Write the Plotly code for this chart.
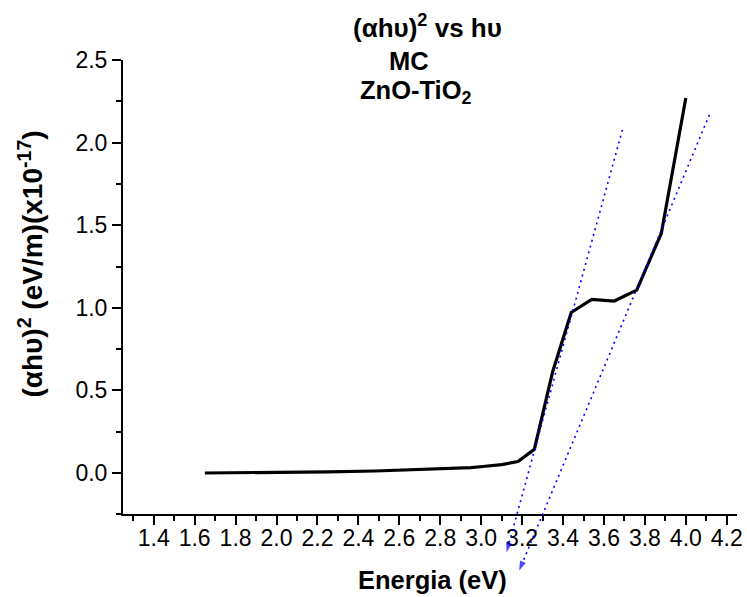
import plotly.graph_objects as go

# ---- data ----
energy = [1.65, 1.77, 1.91, 2.07, 2.25, 2.48, 2.76, 2.95, 3.02, 3.10,
          3.18, 3.26, 3.35, 3.44, 3.54, 3.65, 3.76, 3.88, 4.00]
ahv2 = [0.000, 0.001, 0.002, 0.004, 0.007, 0.012, 0.022, 0.033, 0.041, 0.051,
        0.069, 0.144, 0.616, 0.972, 1.051, 1.041, 1.107, 1.450, 2.270]

fit1_x = [3.690, 3.124]
fit1_y = [2.077, -0.479]
fit2_x = [4.115, 3.186]
fit2_y = [2.168, -0.590]

x_range = [1.25, 4.25]
y_range = [-0.25, 2.5]

W, H = 747, 597
ML = 123.3
MT = 60
MR = W - 736.7
MB = 15
plot_h = H - MT - MB
plot_w = W - ML - MR
main_bottom = 514.3
dom0 = (H - MB - main_bottom) / plot_h
# overlay axis spanning full plot height with identical scale
y2_low = y_range[1] - (y_range[1] - y_range[0]) * 1.0 / (1.0 - dom0)

def py(p):  # page pixel y -> paper
    return (H - MB - p) / plot_h

def px(p):  # page pixel x -> paper
    return (p - ML) / plot_w

FONT = "Arial, Liberation Sans, sans-serif"

fig = go.Figure()
fig.add_trace(go.Scatter(x=energy, y=ahv2, mode="lines",
                         line=dict(color="black", width=3.2),
                         xaxis="x", yaxis="y", showlegend=False))
for fx, fy in [(fit1_x, fit1_y), (fit2_x, fit2_y)]:
    fig.add_trace(go.Scatter(x=fx, y=fy, mode="lines+markers",
                             line=dict(color="#0000FF", width=1.6, dash="2px,4px"),
                             marker=dict(symbol="arrow", size=[0, 10], angleref="previous",
                                         color="#0000FF", line=dict(width=0)),
                             xaxis="x2", yaxis="y2", showlegend=False))

axis_common = dict(showline=True, linecolor="black", linewidth=2, ticks="outside",
                   tickcolor="black", tickwidth=2, ticklen=9, showgrid=False,
                   zeroline=False, tickfont=dict(family=FONT, size=23, color="black"),
                   tickformat=".1f")

fig.update_layout(
    width=W, height=H,
    margin=dict(l=ML, r=MR, t=MT, b=MB, autoexpand=False),
    paper_bgcolor="white", plot_bgcolor="rgba(0,0,0,0)",
    xaxis=dict(range=x_range, domain=[0, 1], anchor="y", tick0=1.4, dtick=0.2,
               ticklabelstandoff=-7,
               minor=dict(dtick=0.1, tick0=1.3, ticks="outside", ticklen=5,
                          tickwidth=2, tickcolor="black"),
               **axis_common),
    yaxis=dict(range=y_range, domain=[dom0, 1], anchor="x", tick0=0, dtick=0.5,
               minor=dict(dtick=0.25, tick0=0, ticks="outside", ticklen=5,
                          tickwidth=2, tickcolor="black"),
               **axis_common),
    xaxis2=dict(range=x_range, domain=[0, 1], anchor="y2", visible=False),
    yaxis2=dict(range=[y2_low, y_range[1]], domain=[0, 1], anchor="x2", visible=False),
)

ann = [
    ("(αhυ)<sup>2</sup> vs hυ", px(428), py(27), 0, 26),
    ("MC", px(409.5), py(61), 0, 25.5),
    ("ZnO-TiO<sub>2</sub>", px(416.5), py(92), 0, 25.5),
    ("Energia (eV)", px(432.5), py(580), 0, 25.5),
    ("(αhυ)<sup>2</sup> (eV/m)(x10<sup>-17</sup>)", px(31), py(264), -90, 28),
]
for text, x, y, ang, sz in ann:
    fig.add_annotation(text=text, x=x, y=y, xref="paper", yref="paper",
                       xanchor="center", yanchor="middle", showarrow=False,
                       textangle=ang,
                       font=dict(family=FONT, size=sz, color="black", weight="bold"))

fig.write_html("out.html",
               config={"displayModeBar": False},
               post_script="document.body.style.margin='0px';"
                           "document.body.style.overflow='hidden';")
